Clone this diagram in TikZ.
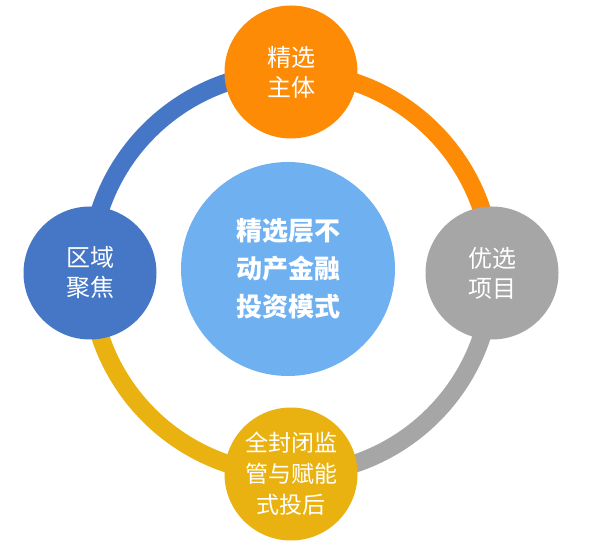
\documentclass[tikz,border=0pt]{standalone}
\usepackage{fontspec}
\newfontfamily\cjk{Noto Sans CJK SC}
\usetikzlibrary{backgrounds}
\definecolor{orangeC}{RGB}{253,139,5}
\definecolor{blueC}{RGB}{70,118,198}
\definecolor{grayC}{RGB}{166,166,166}
\definecolor{yellowC}{RGB}{234,178,16}
\definecolor{centerC}{RGB}{111,177,240}
\begin{document}
\begin{tikzpicture}[x=1pt,y=1pt,
  smallc/.style={circle,minimum size=133pt,inner sep=0pt,text=white,align=center,
    font=\cjk\fontsize{24}{30}\selectfont},
  bigc/.style={circle,minimum size=214pt,inner sep=0pt,text=white,align=center,fill=centerC,
    font=\cjk\bfseries\fontsize{26}{38}\selectfont},
  ring/.style={line width=18pt}]
\useasboundingbox (0,0) rectangle (600,548);
\node[bigc] (mid) at (288,279) {精选层不\\动产金融\\投资模式};
\node[smallc,fill=orangeC] (top) at (291,476) {精选\\主体};
\node[smallc,fill=blueC] (left) at (90,275) {区域\\聚焦};
\node[smallc,fill=grayC] (right) at (492,275) {优选\\项目};
\node[smallc,fill=yellowC,font=\cjk\fontsize{23}{31}\selectfont] (bot) at (291,74) {全封闭监\\管与赋能\\式投后};
\begin{scope}[on background layer]
\draw[ring,blueC] (top.center) arc[start angle=90,end angle=180,radius=201];
\draw[ring,yellowC] (left.center) arc[start angle=180,end angle=270,radius=201];
\draw[ring,grayC] (bot.center) arc[start angle=270,end angle=360,radius=201];
\draw[ring,orangeC] (right.center) arc[start angle=0,end angle=90,radius=201];
\end{scope}
\end{tikzpicture}
\end{document}
